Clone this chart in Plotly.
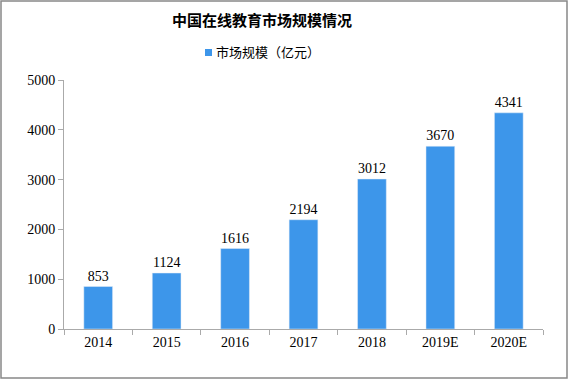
import plotly.graph_objects as go

categories = ["2014", "2015", "2016", "2017", "2018", "2019E", "2020E"]
values = [853, 1124, 1616, 2194, 3012, 3670, 4341]
y_ticks = [0, 1000, 2000, 3000, 4000, 5000]
series_name = "市场规模（亿元）"
title_text = "中国在线教育市场规模情况"

W, H = 568, 379
ml, mr, mt, mb = 64, 25, 80, 50
pw, ph = W - ml - mr, H - mt - mb
bar_color = "#3D96EA"

fig = go.Figure()
fig.add_trace(go.Bar(
    x=categories, y=values, name=series_name,
    marker=dict(color=bar_color),
    text=[str(v) for v in values], textposition="outside",
    textfont=dict(family="Liberation Serif", size=14, color="#000"),
    cliponaxis=False, showlegend=False,
))

# legend drawn manually (square + text)
leg_y = 1 + (mt - 52) / ph
fig.add_annotation(xref="paper", yref="paper", x=(214 - ml) / pw, y=leg_y,
                   xanchor="left", yanchor="middle", showarrow=False,
                   text=series_name,
                   font=dict(family="Noto Sans CJK SC", size=13, color="#000"))

fig.update_layout(
    width=W, height=H,
    margin=dict(l=ml, r=mr, t=mt, b=mb, autoexpand=False),
    paper_bgcolor="white", plot_bgcolor="white",
    bargap=0.58,
    title=dict(text="<b>" + title_text + "</b>", x=262 / W, xanchor="center",
               y=1 - 21 / H, yanchor="middle",
               font=dict(family="Noto Sans CJK SC", size=15, color="#000")),
    xaxis=dict(showline=True, linecolor="#AAAAAA", linewidth=1, ticks="outside",
               tickson="boundaries", ticklen=5, tickcolor="#AAAAAA",
               tickfont=dict(family="Liberation Serif", size=14, color="#000"),
               showgrid=False, automargin=False),
    yaxis=dict(range=[0, 5000], tickvals=y_ticks, showline=True, linecolor="#AAAAAA",
               linewidth=1, ticks="outside", ticklen=5, tickcolor="#AAAAAA",
               tickfont=dict(family="Liberation Serif", size=14, color="#000"),
               showgrid=False, zeroline=False, automargin=False),
    shapes=[
        dict(type="rect", xref="paper", yref="paper",
             x0=(1 - ml) / pw, x1=(W - 1 - ml) / pw,
             y0=-(mb - 1) / ph, y1=1 + (mt - 1) / ph,
             line=dict(color="#888888", width=1.5)),
        dict(type="rect", xref="paper", yref="paper",
             x0=(205 - ml) / pw, x1=(212 - ml) / pw,
             y0=1 + (mt - 56) / ph, y1=1 + (mt - 49) / ph,
             line=dict(width=0), fillcolor=bar_color),
    ],
)

fig.write_html("out.html")
